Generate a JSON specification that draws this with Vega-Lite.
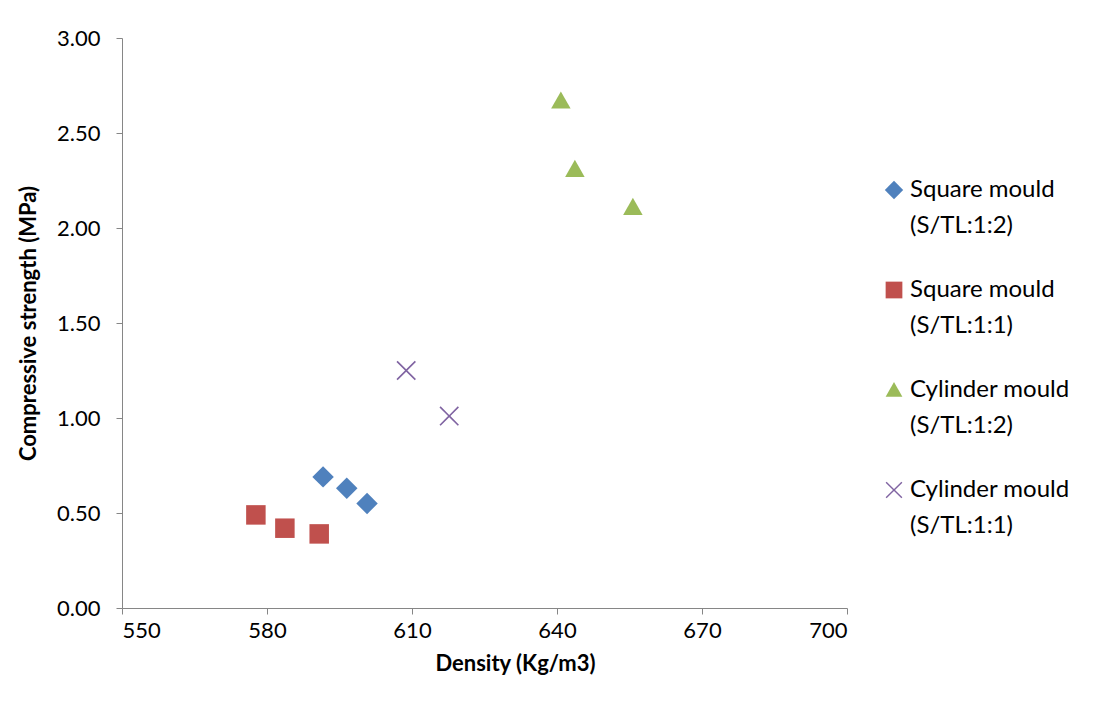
{
  "$schema": "https://vega.github.io/schema/vega-lite/v6.json",
  "width": 725,
  "height": 570,
  "autosize": {"type": "none"},
  "padding": {"left": 122, "top": 38, "right": 273, "bottom": 101},
  "background": "white",
  "config": {
    "font": "Lato",
    "view": {"stroke": null},
    "style": {"guide-label": {"lineHeight": 36}},
    "axis": {
      "grid": false,
      "domainColor": "#868686",
      "tickColor": "#868686",
      "tickSize": 6,
      "labelFont": "Lato",
      "labelFontSize": 22,
      "labelColor": "#000000",
      "titleFont": "Lato",
      "titleFontSize": 22,
      "titleFontWeight": "bold",
      "titleColor": "#000000"
    }
  },
  "data": {
    "values": [
      {"series": "Square mould|(S/TL:1:2)", "density": 591.6, "strength": 0.69},
      {"series": "Square mould|(S/TL:1:2)", "density": 596.5, "strength": 0.63},
      {"series": "Square mould|(S/TL:1:2)", "density": 600.7, "strength": 0.55},
      {"series": "Square mould|(S/TL:1:1)", "density": 577.7, "strength": 0.49},
      {"series": "Square mould|(S/TL:1:1)", "density": 583.7, "strength": 0.42},
      {"series": "Square mould|(S/TL:1:1)", "density": 590.8, "strength": 0.39},
      {"series": "Cylinder mould|(S/TL:1:2)", "density": 640.8, "strength": 2.67},
      {"series": "Cylinder mould|(S/TL:1:2)", "density": 643.7, "strength": 2.31},
      {"series": "Cylinder mould|(S/TL:1:2)", "density": 655.7, "strength": 2.11},
      {"series": "Cylinder mould|(S/TL:1:1)", "density": 608.8, "strength": 1.25},
      {"series": "Cylinder mould|(S/TL:1:1)", "density": 617.7, "strength": 1.01}
    ]
  },
  "mark": {"type": "point", "filled": true, "opacity": 1, "size": 380},
  "encoding": {
    "x": {
      "field": "density", "type": "quantitative",
      "scale": {"domain": [550, 700], "nice": false, "zero": false},
      "axis": {"values": [550, 580, 610, 640, 670, 700], "title": "Density (Kg/m3)", "titleX": 393, "titlePadding": 12, "labelPadding": 6}
    },
    "y": {
      "field": "strength", "type": "quantitative",
      "scale": {"domain": [0, 3], "nice": false},
      "axis": {"values": [0, 0.5, 1, 1.5, 2, 2.5, 3], "format": ".2f", "title": "Compressive strength (MPa)", "titlePadding": 16, "labelPadding": 16}
    },
    "color": {
      "field": "series", "type": "nominal",
      "scale": {
        "domain": ["Square mould|(S/TL:1:2)", "Square mould|(S/TL:1:1)", "Cylinder mould|(S/TL:1:2)", "Cylinder mould|(S/TL:1:1)"],
        "range": ["#4F81BD", "#C0504D", "#9BBB59", "#8064A2"]
      },
      "legend": {
        "title": null,
        "orient": "none",
        "legendX": 760,
        "legendY": 140,
        "labelExpr": "split(datum.label, '|')",
        "labelFont": "Lato",
        "labelFontSize": 24,
        "labelColor": "#000000",
        "labelOffset": 4,
        "rowPadding": 40,
        "symbolSize": 280,
        "labelLimit": 300
      }
    },
    "shape": {
      "field": "series", "type": "nominal",
      "scale": {
        "domain": ["Square mould|(S/TL:1:2)", "Square mould|(S/TL:1:1)", "Cylinder mould|(S/TL:1:2)", "Cylinder mould|(S/TL:1:1)"],
        "range": ["M0,-1.1L1.1,0L0,1.1L-1.1,0Z", "square", "M0,-0.95L1,0.8L-1,0.8Z", "M-1,-0.88L-0.88,-1L0,-0.12L0.88,-1L1,-0.88L0.12,0L1,0.88L0.88,1L0,0.12L-0.88,1L-1,0.88L-0.12,0Z"]
      }
    }
  }
}
